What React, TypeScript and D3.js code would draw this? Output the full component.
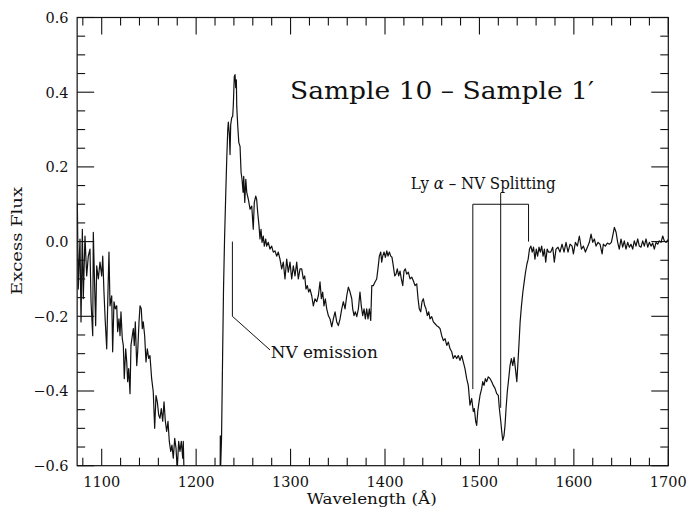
import React from "react";
import * as d3 from "d3";

// Spectrum: wavelength (Å) and excess flux
const wavelength = [
  1074.2, 1075.2, 1077.0, 1078.1, 1079.5, 1080.5, 1082.3, 1084.1, 1085.8, 1087.6,
  1088.7, 1090.5, 1091.1, 1092.6, 1093.6, 1094.7, 1096.4, 1098.2, 1100.0, 1101.1,
  1102.4, 1103.8, 1105.3, 1106.7, 1107.7, 1108.8, 1110.6, 1111.6, 1113.0, 1114.4,
  1115.9, 1116.9, 1118.3, 1119.4, 1120.4, 1121.8, 1122.9, 1123.9, 1125.4, 1126.5,
  1127.5, 1128.6, 1130.0, 1131.0, 1132.4, 1133.5, 1134.5, 1135.6, 1137.1, 1138.1,
  1139.5, 1140.6, 1141.9, 1143.0, 1144.0, 1145.5, 1146.9, 1148.3, 1149.8, 1151.1,
  1152.9, 1154.6, 1156.1, 1157.5, 1158.9, 1160.4, 1161.7, 1163.1, 1164.6, 1166.0,
  1167.4, 1168.8, 1170.2, 1171.6, 1173.1, 1174.4, 1175.8, 1177.3, 1178.7, 1180.0,
  1181.5, 1182.9, 1184.3, 1185.8, 1186.4, 1187.2, 1190.0, 1224.8,
  1225.3, 1225.6, 1226.0, 1226.9, 1228.0, 1229.0, 1230.1, 1231.2, 1232.4, 1233.5,
  1234.1, 1235.2, 1235.9, 1236.6, 1237.7, 1238.7, 1239.4, 1240.4, 1241.2, 1241.9,
  1242.6, 1243.0, 1244.1, 1245.2, 1246.5, 1247.6, 1248.6, 1249.7, 1250.4, 1251.5,
  1252.6, 1253.6, 1255.3, 1257.1, 1258.9, 1260.5, 1261.6, 1263.1, 1264.1, 1265.2,
  1266.6, 1267.6, 1268.7, 1269.8, 1271.1, 1272.2, 1273.7, 1274.7, 1276.4, 1278.2,
  1280.0, 1281.7, 1283.5, 1285.3, 1287.0, 1288.8, 1290.6, 1292.3, 1294.1, 1295.9,
  1297.6, 1299.4, 1301.2, 1302.9, 1304.7, 1306.5, 1308.2, 1310.0,
  1311.8, 1313.5, 1315.0, 1316.3, 1317.7, 1319.2, 1320.6, 1322.4, 1324.1, 1325.9,
  1327.7, 1329.4, 1331.2, 1332.6, 1334.0, 1335.4, 1336.8, 1338.3, 1340.0, 1341.8,
  1343.6, 1345.3, 1347.1, 1348.9, 1350.6, 1352.4, 1354.2, 1355.9, 1357.7, 1359.5,
  1361.2, 1363.0, 1364.8, 1365.8, 1367.2, 1368.6, 1370.1, 1371.8, 1373.5, 1374.9,
  1376.4, 1377.8, 1379.2, 1380.6, 1382.0, 1383.4, 1384.9, 1386.0, 1387.6, 1389.4,
  1391.2, 1392.9, 1394.0, 1395.5, 1396.5, 1397.6, 1399.0, 1400.4, 1401.9, 1403.2,
  1404.6, 1406.1, 1407.4, 1408.8, 1410.3, 1411.7, 1413.0, 1414.5, 1415.9, 1417.3,
  1418.8, 1420.1, 1421.5, 1423.0, 1424.7, 1426.5, 1428.3, 1430.0, 1431.8, 1433.6,
  1435.0, 1436.3, 1437.8, 1439.2, 1440.6, 1442.1, 1443.4, 1444.8, 1446.3, 1447.7,
  1449.5, 1451.2, 1453.0, 1454.8, 1456.5, 1458.3,
  1460.1, 1461.8, 1463.6, 1465.4, 1467.1, 1468.9, 1470.7, 1472.3, 1474.1, 1475.9,
  1477.6, 1479.4, 1481.2, 1482.9, 1484.7, 1486.5, 1488.2, 1490.0, 1491.8, 1493.5,
  1494.6, 1496.0, 1497.1, 1498.2, 1499.6, 1500.6, 1502.4, 1503.5, 1504.9, 1506.3,
  1507.7, 1509.4, 1511.3, 1513.0, 1514.7, 1516.5, 1518.3, 1520.0, 1521.1, 1522.6,
  1523.6, 1524.7, 1526.0, 1527.1, 1528.2, 1529.5, 1531.0, 1532.4, 1533.8, 1535.3,
  1536.7, 1538.1, 1539.6, 1540.6, 1542.0, 1543.1, 1544.5, 1546.0, 1547.4, 1548.8,
  1550.3, 1551.6, 1553.0, 1554.5, 1555.9, 1557.3, 1558.8, 1560.2, 1561.6, 1563.1,
  1564.5, 1565.9, 1567.4, 1568.8, 1570.2, 1571.7, 1573.1,
  1575.5, 1577.6, 1579.3, 1581.1, 1583.2, 1585.3, 1587.5, 1589.6, 1591.7, 1593.8,
  1596.0, 1598.1, 1599.5, 1601.6, 1603.7, 1605.8, 1608.0, 1610.1, 1612.2, 1614.3,
  1616.4, 1618.2, 1620.0, 1621.7, 1623.5, 1625.6, 1627.7, 1629.9, 1631.2, 1633.3,
  1635.5, 1637.6, 1639.7, 1641.5, 1642.9, 1644.7, 1646.4, 1648.1, 1649.9, 1651.7,
  1653.4, 1655.2, 1657.0, 1658.8, 1660.5, 1662.3, 1664.0, 1665.8, 1667.6, 1669.3,
  1671.1, 1672.9, 1674.6, 1676.4, 1678.2, 1679.9, 1681.7, 1683.5, 1685.2, 1687.0,
  1688.8, 1690.5, 1692.3, 1694.1, 1695.8, 1697.6, 1699.7,
];

const flux = [
  0.105, -0.127, 0.007, -0.215, 0.033, -0.153, 0.015, -0.092, -0.039, -0.02,
  -0.161, -0.252, 0.025, -0.127, -0.225, -0.065, -0.1, -0.055, -0.092, -0.039,
  -0.135, -0.215, -0.287, -0.127, -0.028, -0.172, -0.145, -0.295, -0.161, -0.18,
  -0.172, -0.241, -0.207, -0.252, -0.188, -0.26, -0.278, -0.367, -0.287, -0.322,
  -0.375, -0.34, -0.407, -0.278, -0.252, -0.233, -0.278, -0.215, -0.332, -0.295,
  -0.215, -0.172, -0.18, -0.233, -0.215, -0.252, -0.322, -0.287, -0.313, -0.305,
  -0.367, -0.402, -0.5, -0.412, -0.429, -0.465, -0.473, -0.447, -0.481, -0.429,
  -0.481, -0.508, -0.481, -0.535, -0.562, -0.545, -0.58, -0.527, -0.553, -0.61,
  -0.535, -0.562, -0.535, -0.58, -0.535, -0.62, -0.7, -0.7,
  -0.7, -0.52, -0.6, -0.527, -0.313, -0.127, 0.007, 0.113, 0.22, 0.3,
  0.32, 0.287, 0.233, 0.313, 0.332, 0.335, 0.367, 0.442, 0.447, 0.412,
  0.433, 0.362, 0.308, 0.265, 0.255, 0.185, 0.167, 0.132, 0.175, 0.105,
  0.167, 0.132, 0.113, 0.087, 0.095, 0.033, 0.105, 0.122, 0.113, 0.078,
  0.042, 0.007, 0.033, -0.002, 0.015, -0.012, 0.007, -0.012, -0.002, -0.02,
  -0.012, -0.028, -0.025, -0.039, -0.028, -0.047, -0.073, -0.055, -0.1, -0.047,
  -0.082, -0.055, -0.1, -0.065, -0.092, -0.055, -0.1, -0.073,
  -0.073, -0.1, -0.092, -0.127, -0.118, -0.135, -0.127, -0.145, -0.172, -0.153,
  -0.161, -0.145, -0.108, -0.153, -0.135, -0.172, -0.153, -0.18, -0.198, -0.207,
  -0.228, -0.207, -0.188, -0.215, -0.225, -0.207, -0.18, -0.161, -0.18, -0.145,
  -0.122, -0.135, -0.153, -0.18, -0.198, -0.188, -0.201, -0.18, -0.135, -0.172,
  -0.198, -0.18, -0.207, -0.18, -0.207, -0.18, -0.211, -0.118, -0.118, -0.108,
  -0.1, -0.065, -0.039, -0.028, -0.055, -0.039, -0.028, -0.042, -0.025, -0.039,
  -0.028, -0.039, -0.042, -0.065, -0.092, -0.087, -0.073, -0.092, -0.079, -0.1,
  -0.118, -0.079, -0.073, -0.087, -0.082, -0.1, -0.095, -0.105, -0.118, -0.113,
  -0.153, -0.18, -0.188, -0.161, -0.153, -0.172, -0.18, -0.198, -0.188, -0.207,
  -0.201, -0.215, -0.22, -0.225, -0.228, -0.233,
  -0.252, -0.265, -0.26, -0.278, -0.269, -0.287, -0.295, -0.313, -0.305, -0.313,
  -0.305, -0.318, -0.305, -0.322, -0.34, -0.367, -0.385, -0.438, -0.42, -0.455,
  -0.447, -0.481, -0.492, -0.455, -0.429, -0.412, -0.393, -0.375, -0.385, -0.367,
  -0.375, -0.362, -0.367, -0.375, -0.385, -0.393, -0.407, -0.412, -0.447, -0.481,
  -0.508, -0.532, -0.52, -0.492, -0.447, -0.402, -0.367, -0.332, -0.313, -0.332,
  -0.31, -0.34, -0.375, -0.332, -0.269, -0.215, -0.172, -0.135, -0.108, -0.082,
  -0.06, -0.047, -0.02, -0.012, -0.028, -0.015, -0.047, -0.02, -0.039, -0.015,
  -0.028, -0.012, -0.039, -0.02, -0.055, -0.02, -0.028,
  -0.028, -0.015, -0.055, -0.02, -0.015, -0.028, -0.007, -0.028, -0.002, -0.028,
  -0.007, -0.012, -0.033, -0.002, -0.012, 0.015, -0.02, -0.012, -0.028, -0.015,
  -0.002, 0.02, -0.002, 0.007, -0.012, -0.002, -0.007, -0.033, -0.007, -0.012,
  -0.004, -0.007, -0.002, 0.02, 0.038, 0.025, -0.002, -0.02, 0.007, -0.015,
  0.002, -0.02, -0.002, -0.015, -0.007, -0.02, 0.002, -0.012, 0.007, -0.012,
  -0.015, 0.002, -0.012, 0.007, -0.015, -0.002, -0.012, -0.004, -0.02, -0.002,
  -0.007, 0.002, -0.002, 0.015, 0.002, -0.002, 0.005,
];

const xDomain = [1074, 1700];
const yDomain = [-0.6, 0.6];
const xMajorTicks = [1100, 1200, 1300, 1400, 1500, 1600, 1700];
const yMajorTicks = [-0.6, -0.4, -0.2, 0.0, 0.2, 0.4, 0.6];
const xTickLabels = ["1100", "1200", "1300", "1400", "1500", "1600", "1700"];
const yTickLabels = ["\u22120.6", "\u22120.4", "\u22120.2", "0.0", "0.2", "0.4", "0.6"];

// Annotations (data units)
const nvEmissionLine = [[1238.4, 0.0], [1238.4, -0.2], [1278.2, -0.29]];
const nvEmissionText = { wl: 1279, f: -0.312, label: "NV emission" };
const splitLeft = 1493;
const splitMid = 1522.5;
const splitRight = 1552;
const splitBar = 0.1;
const splitLeftBottom = -0.395;
const splitMidTop = 0.13;
const splitMidBottom = -0.445;
const splitRightBottom = 0.0;
const splitText = { wl: 1427.2, f: 0.14 };
const titleText = { wl: 1299.4, f: 0.381, label: "Sample 10 \u2013 Sample 1\u2032" };

export default function App() {
  const W = 689, H = 508;
  const x = d3.scaleLinear().domain(xDomain).range([77.15, 668.3]);
  const y = d3.scaleLinear().domain(yDomain).range([465.7, 17.5]);
  const [x0, x1] = x.range();
  const [yb, yt] = y.range();

  const pts = wavelength.map((w, i) => [w, flux[i]] as [number, number]);
  const line = d3.line<[number, number]>().x((d) => x(d[0])).y((d) => y(d[1]));
  const annLine = d3.line<number[]>().x((d) => x(d[0])).y((d) => y(d[1]));

  const xMinor = d3.range(1080, 1701, 20).filter((v) => !xMajorTicks.includes(v));
  const yMinor = d3.range(-12, 13).map((i) => i * 0.05).filter((v) => Math.abs(Math.round(v * 100) % 20) !== 0);

  const MAJ = 17, MIN = 8;
  const font = "'DejaVu Serif', serif";

  return (
    <svg width={W} height={H} style={{ position: "absolute", left: 0, top: 0, background: "#fff" }}>
      <defs>
        <clipPath id="plotclip">
          <rect x={x0} y={yt} width={x1 - x0} height={yb - yt} />
        </clipPath>
      </defs>
      <rect width={W} height={H} fill="#fff" />
      {/* frame */}
      <rect x={x0} y={yt} width={x1 - x0} height={yb - yt} fill="none" stroke="#111" strokeWidth={1.2} />
      {/* x ticks */}
      {xMajorTicks.map((v) => (
        <g key={"xm" + v}>
          <line x1={x(v)} x2={x(v)} y1={yb} y2={yb - MAJ} stroke="#111" strokeWidth={1.1} />
          <line x1={x(v)} x2={x(v)} y1={yt} y2={yt + MAJ} stroke="#111" strokeWidth={1.1} />
        </g>
      ))}
      {xMinor.map((v) => (
        <g key={"xn" + v}>
          <line x1={x(v)} x2={x(v)} y1={yb} y2={yb - MIN} stroke="#111" strokeWidth={1.1} />
          <line x1={x(v)} x2={x(v)} y1={yt} y2={yt + MIN} stroke="#111" strokeWidth={1.1} />
        </g>
      ))}
      {/* y ticks */}
      {yMajorTicks.map((v) => (
        <g key={"ym" + v}>
          <line x1={x0} x2={x0 + MAJ} y1={y(v)} y2={y(v)} stroke="#111" strokeWidth={1.1} />
          <line x1={x1} x2={x1 - MAJ} y1={y(v)} y2={y(v)} stroke="#111" strokeWidth={1.1} />
        </g>
      ))}
      {yMinor.map((v) => (
        <g key={"yn" + v}>
          <line x1={x0} x2={x0 + MIN} y1={y(v)} y2={y(v)} stroke="#111" strokeWidth={1.1} />
          <line x1={x1} x2={x1 - MIN} y1={y(v)} y2={y(v)} stroke="#111" strokeWidth={1.1} />
        </g>
      ))}
      {/* tick labels */}
      {xMajorTicks.map((v, i) => (
        <text key={"xl" + v} x={x(v)} y={486.5} textAnchor="middle" fontFamily={font} fontSize={14.5} fill="#111">
          {xTickLabels[i]}
        </text>
      ))}
      {yMajorTicks.map((v, i) => (
        <text key={"yl" + v} x={68.5} y={y(v) + 5.3} textAnchor="end" fontFamily={font} fontSize={14.5} fill="#111">
          {yTickLabels[i]}
        </text>
      ))}
      {/* axis labels */}
      <text x={306.7} y={504} fontFamily={font} fontSize={14.5} textLength={130} lengthAdjust="spacingAndGlyphs" fill="#111">
        Wavelength (Å)
      </text>
      <text transform={`translate(22,241) rotate(-90)`} textAnchor="middle" fontFamily={font} fontSize={15.5} textLength={108} lengthAdjust="spacingAndGlyphs" fill="#111">
        Excess Flux
      </text>
      {/* data */}
      <g clipPath="url(#plotclip)">
        <path d={line(pts) ?? ""} fill="none" stroke="#111" strokeWidth={1.2} strokeLinejoin="round" />
      </g>
      {/* NV emission annotation */}
      <path d={annLine(nvEmissionLine) ?? ""} fill="none" stroke="#111" strokeWidth={1} />
      <text x={x(nvEmissionText.wl)} y={y(nvEmissionText.f)} fontFamily={font} fontSize={16} textLength={107} lengthAdjust="spacingAndGlyphs" fill="#111">
        {nvEmissionText.label}
      </text>
      {/* Ly alpha - NV splitting bracket */}
      <path
        d={annLine([[splitLeft, splitLeftBottom], [splitLeft, splitBar], [splitRight, splitBar], [splitRight, splitRightBottom]]) ?? ""}
        fill="none" stroke="#111" strokeWidth={1}
      />
      <path d={annLine([[splitMid, splitMidTop], [splitMid, splitMidBottom]]) ?? ""} fill="none" stroke="#111" strokeWidth={1} />
      <text x={x(splitText.wl)} y={y(splitText.f)} fontFamily={font} fontSize={16} textLength={145} lengthAdjust="spacingAndGlyphs" fill="#111">
        Ly <tspan fontStyle="italic">α</tspan> – NV Splitting
      </text>
      {/* title */}
      <text x={x(titleText.wl)} y={y(titleText.f)} fontFamily={font} fontSize={25} textLength={304} lengthAdjust="spacingAndGlyphs" fill="#111">
        {titleText.label}
      </text>
    </svg>
  );
}
